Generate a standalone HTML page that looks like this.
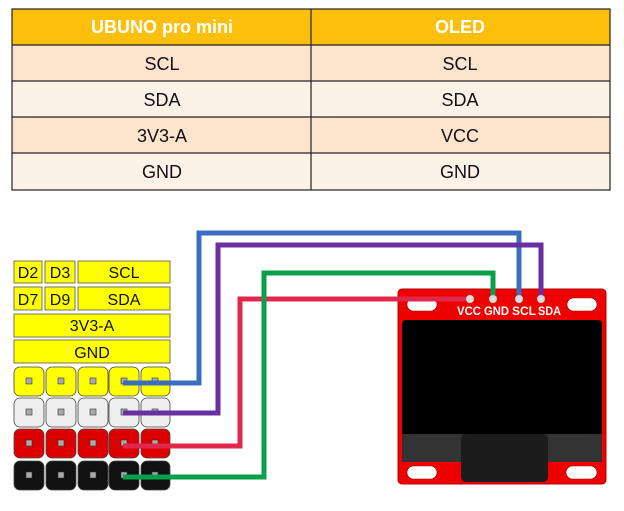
<!DOCTYPE html>
<html><head><style>
body{margin:0;background:#fff;width:624px;height:506px;overflow:hidden;font-family:"Liberation Sans",sans-serif}
</style></head><body>
<svg width="624" height="506" xmlns="http://www.w3.org/2000/svg" font-family="Liberation Sans, sans-serif">
<rect x="12" y="9" width="598" height="36" fill="#fcc00c"/>
<rect x="12" y="45" width="598" height="36" fill="#fce4ce"/>
<rect x="12" y="81" width="598" height="36" fill="#fdf2e8"/>
<rect x="12" y="117" width="598" height="36" fill="#fce4ce"/>
<rect x="12" y="153" width="598" height="37" fill="#fdf2e8"/>
<g stroke="#222" stroke-width="1.2" fill="none">
<rect x="12" y="9" width="598" height="181"/>
<line x1="311" y1="9" x2="311" y2="190"/>
<line x1="12" y1="45" x2="610" y2="45"/><line x1="12" y1="81" x2="610" y2="81"/>
<line x1="12" y1="117" x2="610" y2="117"/><line x1="12" y1="153" x2="610" y2="153"/>
</g>
<g font-size="18" text-anchor="middle" fill="#111">
<text x="162" y="33" fill="#fff" font-weight="bold">UBUNO pro mini</text>
<text x="460" y="33" fill="#fff" font-weight="bold">OLED</text>
<text x="162" y="70">SCL</text><text x="460" y="70">SCL</text>
<text x="162" y="106">SDA</text><text x="460" y="106">SDA</text>
<text x="162" y="142">3V3-A</text><text x="460" y="142">VCC</text>
<text x="162" y="178">GND</text><text x="460" y="178">GND</text>
</g>
<g fill="#ffff00" stroke="#555" stroke-width="0.8">
<rect x="14" y="261" width="28" height="22"/><rect x="45" y="261" width="30" height="22"/><rect x="78" y="261" width="92" height="22"/>
<rect x="14" y="287" width="28" height="23"/><rect x="45" y="287" width="30" height="23"/><rect x="78" y="287" width="92" height="23"/>
<rect x="14" y="314" width="156" height="23"/><rect x="14" y="340" width="156" height="23"/>
</g>
<g font-size="16" text-anchor="middle" fill="#111">
<text x="28" y="278">D2</text><text x="60" y="278">D3</text><text x="124" y="278">SCL</text>
<text x="28" y="305">D7</text><text x="60" y="305">D9</text><text x="124" y="305">SDA</text>
<text x="92" y="331">3V3-A</text><text x="92" y="358">GND</text>
</g>
<g stroke="#444" stroke-width="0.8">
<g fill="#ffff00">
<rect x="14" y="367" width="30" height="29" rx="6"/><rect x="46" y="367" width="30" height="29" rx="6"/><rect x="78" y="367" width="30" height="29" rx="6"/><rect x="109" y="367" width="30" height="29" rx="6"/><rect x="141" y="367" width="29" height="29" rx="6"/></g>
<g fill="#eeeeee">
<rect x="14" y="398" width="30" height="29" rx="6"/><rect x="46" y="398" width="30" height="29" rx="6"/><rect x="78" y="398" width="30" height="29" rx="6"/><rect x="109" y="398" width="30" height="29" rx="6"/><rect x="141" y="398" width="29" height="29" rx="6"/></g>
<g fill="#dd0000">
<rect x="14" y="429" width="30" height="29" rx="6"/><rect x="46" y="429" width="30" height="29" rx="6"/><rect x="78" y="429" width="30" height="29" rx="6"/><rect x="109" y="429" width="30" height="29" rx="6"/><rect x="141" y="429" width="29" height="29" rx="6"/></g>
<g fill="#111">
<rect x="14" y="461" width="30" height="29" rx="6"/><rect x="46" y="461" width="30" height="29" rx="6"/><rect x="78" y="461" width="30" height="29" rx="6"/><rect x="109" y="461" width="30" height="29" rx="6"/><rect x="141" y="461" width="29" height="29" rx="6"/></g>
</g>
<g fill="#aaa" stroke="#333" stroke-width="0.6">
<rect x="26" y="378" width="6" height="6"/><rect x="58" y="378" width="6" height="6"/><rect x="90" y="378" width="6" height="6"/><rect x="121" y="378" width="6" height="6"/><rect x="152" y="378" width="6" height="6"/>
<rect x="26" y="409" width="6" height="6"/><rect x="58" y="409" width="6" height="6"/><rect x="90" y="409" width="6" height="6"/><rect x="121" y="409" width="6" height="6"/><rect x="152" y="409" width="6" height="6"/>
<rect x="26" y="440" width="6" height="6"/><rect x="58" y="440" width="6" height="6"/><rect x="90" y="440" width="6" height="6"/><rect x="121" y="440" width="6" height="6"/><rect x="152" y="440" width="6" height="6"/>
<rect x="26" y="472" width="6" height="6"/><rect x="58" y="472" width="6" height="6"/><rect x="90" y="472" width="6" height="6"/><rect x="121" y="472" width="6" height="6"/><rect x="152" y="472" width="6" height="6"/>
</g>
<rect x="398" y="289" width="208" height="195" rx="4" fill="#ee0000" stroke="#b00" stroke-width="1"/>
<g fill="#fff" stroke="#900" stroke-width="0.6">
<rect x="407" y="298" width="30" height="13" rx="6.5"/><rect x="567" y="298" width="30" height="13" rx="6.5"/>
<rect x="407" y="466" width="30" height="13" rx="6.5"/><rect x="566" y="466" width="31" height="13" rx="6.5"/>
</g>
<rect x="402" y="320" width="200" height="116" rx="4" fill="#000"/>
<rect x="402" y="434" width="200" height="28" fill="#333"/>
<rect x="461" y="434" width="87" height="48" rx="5" fill="#1c1c1c"/>
<g font-size="12" font-weight="bold" fill="#fff">
<text x="457" y="315" textLength="24" lengthAdjust="spacingAndGlyphs">VCC</text>
<text x="484" y="315" textLength="25" lengthAdjust="spacingAndGlyphs">GND</text>
<text x="512" y="315" textLength="24" lengthAdjust="spacingAndGlyphs">SCL</text>
<text x="538" y="315" textLength="23" lengthAdjust="spacingAndGlyphs">SDA</text>
</g>
<g fill="none" stroke-width="5" stroke-linejoin="miter">
<polyline points="123,383 199,383 199,233 519,233 519,298" stroke="#3a6cc0"/>
<polyline points="123,413 218,413 218,245 541,245 541,298" stroke="#6a2fa0"/>
<polyline points="123,446 240,446 240,299 470,299" stroke="#e0284c"/>
<polyline points="123,477 264,477 264,273 493,273 493,298" stroke="#0aa04a"/>
</g>
<g fill="#ddd" stroke="#999" stroke-width="0.5">
<circle cx="470" cy="299" r="4"/><circle cx="493" cy="299" r="4"/><circle cx="519" cy="299" r="4"/><circle cx="541" cy="299" r="4"/>
</g>
</svg>
</body></html>
